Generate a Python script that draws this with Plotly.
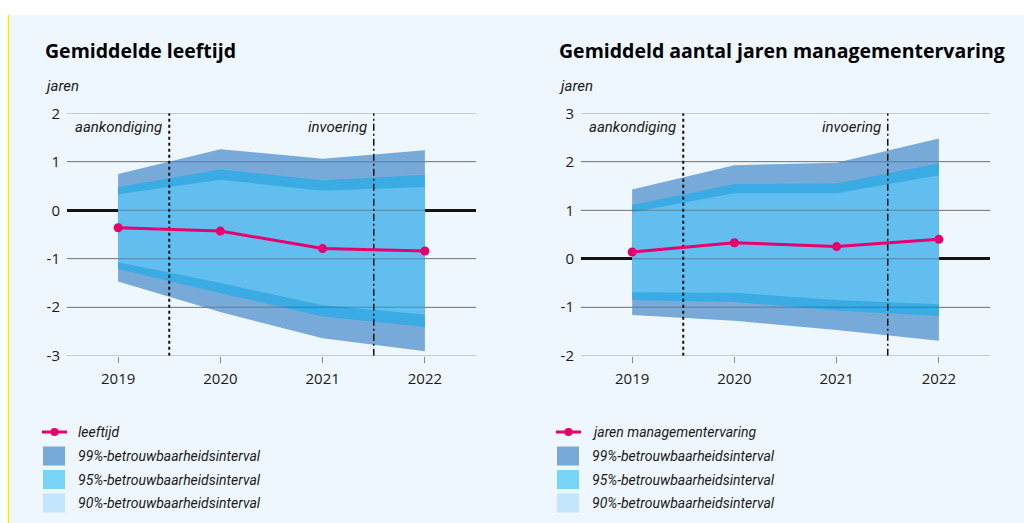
import plotly.graph_objects as go

years = [2019, 2020, 2021, 2022]

# Left panel: gemiddelde leeftijd
age_mean = [-0.36, -0.43, -0.79, -0.84]
age_u99 = [0.75, 1.26, 1.06, 1.24]
age_u95 = [0.48, 0.84, 0.62, 0.73]
age_u90 = [0.33, 0.63, 0.40, 0.48]
age_l90 = [-1.07, -1.50, -1.96, -2.15]
age_l95 = [-1.21, -1.71, -2.19, -2.41]
age_l99 = [-1.47, -2.10, -2.64, -2.91]

# Right panel: jaren managementervaring
exp_mean = [0.14, 0.33, 0.25, 0.40]
exp_u99 = [1.43, 1.93, 1.98, 2.48]
exp_u95 = [1.11, 1.54, 1.55, 1.97]
exp_u90 = [0.96, 1.35, 1.35, 1.72]
exp_l90 = [-0.69, -0.70, -0.85, -0.94]
exp_l95 = [-0.85, -0.89, -1.07, -1.18]
exp_l99 = [-1.16, -1.28, -1.47, -1.69]

titles = ["Gemiddelde leeftijd", "Gemiddeld aantal jaren managementervaring"]
unit_label = "jaren"
series_names = ["leeftijd", "jaren managementervaring"]
band_names = ["99%-betrouwbaarheidsinterval", "95%-betrouwbaarheidsinterval", "90%-betrouwbaarheidsinterval"]
left_ticks = [-3, -2, -1, 0, 1, 2]
right_ticks = [-2, -1, 0, 1, 2, 3]
event_x = [2019.5, 2021.5]
event_labels = ["aankondiging", "invoering"]
event_dash = ["dot", "7px,3px,2px,3px"]

BG = "#EEF7FE"
PINK = "#E5006E"
band_colors = ["#77AAD8", "#3BACE3", "#62BEEF"]
legend_colors = ["#77A9D6", "#77D4F7", "#C2E5FB"]
GRID = "rgba(40,40,40,0.35)"
TXT = "#1A1A1A"
italic_font = dict(family="Roboto", size=14, color=TXT, style="italic")
event_font = dict(family="Roboto", size=15, color=TXT, style="italic")
tick_font = dict(family="Open Sans", size=15, color=TXT)

W, H = 1024, 523
fig = go.Figure()

panels = [
    dict(xa="x", ya="y", mean=age_mean, bands=[(age_u99, age_l99), (age_u95, age_l95), (age_u90, age_l90)],
         ticks=left_ticks, rng=[-3, 2], dom=[67 / W, 476 / W], lx=43, label_y=[1.71, 1.71]),
    dict(xa="x2", ya="y2", mean=exp_mean, bands=[(exp_u99, exp_l99), (exp_u95, exp_l95), (exp_u90, exp_l90)],
         ticks=right_ticks, rng=[-2, 3], dom=[581 / W, 990 / W], lx=557, label_y=[2.71, 2.71]),
]

ydom = [1 - 355.7 / H, 1 - 113.3 / H]

for i, p in enumerate(panels):
    # bands
    for (up, lo), col in zip(p["bands"], band_colors):
        fig.add_trace(go.Scatter(
            x=years + years[::-1], y=up + lo[::-1], fill="toself", fillcolor=col,
            line=dict(width=0), mode="lines", hoverinfo="skip", showlegend=False,
            xaxis=p["xa"], yaxis=p["ya"]))
    # gridlines over bands
    gx, gy = [], []
    for t in p["ticks"]:
        gx += [2018.5, 2022.5, None]
        gy += [t, t, None]
    fig.add_trace(go.Scatter(x=gx, y=gy, mode="lines", line=dict(color=GRID, width=1),
                             hoverinfo="skip", showlegend=False, xaxis=p["xa"], yaxis=p["ya"]))
    # event lines
    for ex, lab, dsh, ly in zip(event_x, event_labels, event_dash, p["label_y"]):
        fig.add_trace(go.Scatter(x=[ex, ex], y=p["rng"], mode="lines",
                                 line=dict(color="#111111", width=2 if dsh == "dot" else 1.5, dash=dsh),
                                 hoverinfo="skip", showlegend=False, xaxis=p["xa"], yaxis=p["ya"]))
        fig.add_annotation(x=ex, y=ly, xref=p["xa"], yref=p["ya"], text=lab, showarrow=False,
                           xanchor="right", yanchor="middle", xshift=-5, font=event_font)
    # mean line
    fig.add_trace(go.Scatter(x=years, y=p["mean"], mode="lines+markers",
                             line=dict(color=PINK, width=3), marker=dict(color=PINK, size=9),
                             showlegend=False, xaxis=p["xa"], yaxis=p["ya"]))

    # titles
    fig.add_annotation(x=p["lx"] / W, y=1 - 50 / H, xref="paper", yref="paper", text="<b>" + titles[i] + "</b>",
                       showarrow=False, xanchor="left", yanchor="middle",
                       font=dict(family="Open Sans", size=19.5, color="#000000"))
    fig.add_annotation(x=p["lx"] / W, y=1 - 86 / H, xref="paper", yref="paper", text=unit_label,
                       showarrow=False, xanchor="left", yanchor="middle", font=event_font)

    # manual legend
    lx0 = p["lx"] - 1
    ly = 432
    fig.add_shape(type="line", xref="paper", yref="paper", x0=lx0 / W, x1=(lx0 + 25) / W,
                  y0=1 - ly / H, y1=1 - ly / H, line=dict(color=PINK, width=3))
    fig.add_shape(type="circle", xref="paper", yref="paper", x0=(lx0 + 8.5) / W, x1=(lx0 + 16.5) / W,
                  y0=1 - (ly + 4) / H, y1=1 - (ly - 4) / H, fillcolor=PINK, line=dict(width=0))
    fig.add_annotation(x=(p["lx"] + 33) / W, y=1 - ly / H, xref="paper", yref="paper", text=series_names[i],
                       showarrow=False, xanchor="left", yanchor="middle", font=italic_font)
    for k, (bn, bc) in enumerate(zip(band_names, legend_colors)):
        cy = 456 + k * 23.5
        fig.add_shape(type="rect", xref="paper", yref="paper", x0=p["lx"] / W, x1=(p["lx"] + 22) / W,
                      y0=1 - (cy + 9.5) / H, y1=1 - (cy - 9.5) / H, fillcolor=bc, line=dict(width=0))
        fig.add_annotation(x=(p["lx"] + 33) / W, y=1 - cy / H, xref="paper", yref="paper", text=bn,
                           showarrow=False, xanchor="left", yanchor="middle", font=italic_font)

# panel background
fig.add_shape(type="rect", xref="paper", yref="paper", x0=8 / W, x1=1.0, y0=0, y1=1 - 15 / H,
              fillcolor=BG, line=dict(width=0), layer="below")
fig.add_shape(type="line", xref="paper", yref="paper", x0=8.5 / W, x1=8.5 / W, y0=0, y1=1 - 15 / H,
              line=dict(color="#FFE600", width=1.5), layer="below")

axis_common_x = dict(range=[2018.5, 2022.5], tickvals=years, ticktext=[str(y) for y in years],
                     showgrid=False, zeroline=False, ticks="outside", ticklen=6, tickcolor="#888888",
                     tickfont=tick_font, ticklabelstandoff=3, showline=False, fixedrange=True,
                     automargin=False)
axis_common_y = dict(showgrid=True, gridcolor="#A0A4A8", zeroline=True, zerolinecolor="#111111",
                     zerolinewidth=2.5, tickfont=tick_font, ticklabelstandoff=6, fixedrange=True,
                     automargin=False)

fig.update_layout(
    width=W, height=H, autosize=False,
    margin=dict(l=0, r=0, t=0, b=0, pad=0),
    paper_bgcolor="#FFFFFF", plot_bgcolor="rgba(0,0,0,0)",
    showlegend=False,
    xaxis=dict(domain=panels[0]["dom"], anchor="y", **axis_common_x),
    xaxis2=dict(domain=panels[1]["dom"], anchor="y2", **axis_common_x),
    yaxis=dict(domain=ydom, anchor="x", range=panels[0]["rng"], tickvals=left_ticks,
               ticktext=[str(t) for t in left_ticks], **axis_common_y),
    yaxis2=dict(domain=ydom, anchor="x2", range=panels[1]["rng"], tickvals=right_ticks,
                ticktext=[str(t) for t in right_ticks], **axis_common_y),
)

post = (
    "var s=document.createElement('style');"
    "s.textContent='html,body{margin:0!important;padding:0!important;overflow:hidden!important;}';"
    "document.head.appendChild(s);"
)

fig.write_html("out.html", config={"displayModeBar": False}, post_script=post)
